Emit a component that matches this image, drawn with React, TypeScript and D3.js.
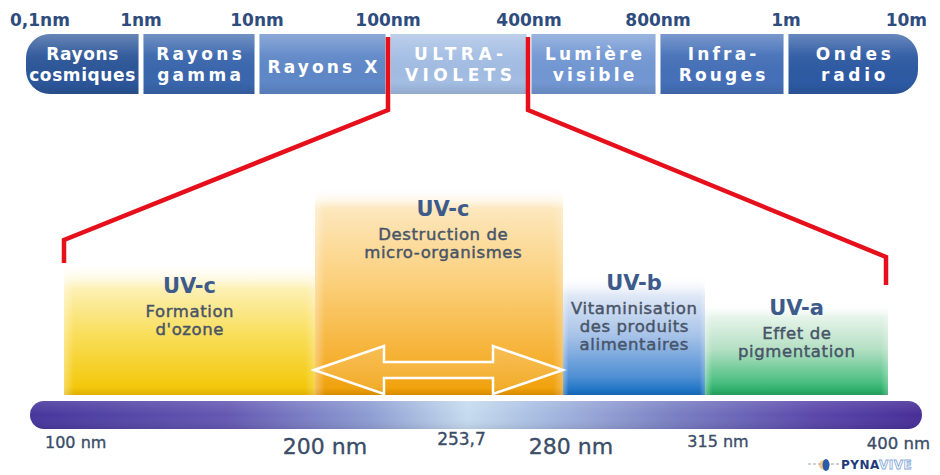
import React from "react";
import * as d3 from "d3";

// ---- data ----
const TOP_TICKS = ["0,1nm", "1nm", "10nm", "100nm", "400nm", "800nm", "1m", "10m"];
const BAND_LINE1 = ["Rayons", "Rayons", "Rayons X", "ULTRA-", "Lumière", "Infra-", "Ondes"];
const BAND_LINE2 = ["cosmiques", "gamma", "", "VIOLETS", "visible", "Rouges", "radio"];
const ZOOM_BAND = 3; // index of the UV band in the spectrum

const UV_NAMES = ["UV-c", "UV-c", "UV-b", "UV-a"];
const UV_DESC = [
  ["Formation", "d'ozone"],
  ["Destruction de", "micro-organismes"],
  ["Vitaminisation", "des produits", "alimentaires"],
  ["Effet de", "pigmentation"],
];
const UV_START = [100, 200, 280, 315];
const UV_END = [200, 280, 315, 400];
const UV_AXIS_VALUES = [100, 200, 253.7, 280, 315, 400];
const UV_AXIS_LABELS = ["100 nm", "200 nm", "253,7", "280 nm", "315 nm", "400 nm"];
const ARROW_RANGE = [200, 280];

// ---- styles ----
const BAND_COLORS = ["#2c5699", "#3a66ad", "#5f88c8", "#a3bde3", "#7297d3", "#4570b8", "#2d5aa3"];
const BAND_SPACING = [0.6, 3.3, 3.1, 4.5, 3.2, 3.2, 3.7];
const UV_TOPS = [262, 188, 275, 303];
const UV_GRADS = [
  [[0, "#ffffff", 0], [0.2, "#fdf0b4", 1], [0.55, "#f9de5a", 1], [0.94, "#f3c80c", 1], [1, "#e0b000", 1]],
  [[0, "#ffffff", 0], [0.1, "#fde7bd", 1], [0.45, "#fbd07c", 1], [0.85, "#f5ae2c", 1], [0.965, "#f0a20e", 1], [1, "#d88b00", 1]],
  [[0, "#ffffff", 0], [0.17, "#dfe8f6", 1], [0.5, "#a8c3e8", 1], [0.85, "#4e8fd3", 1], [0.95, "#2377c6", 1], [1, "#1566b0", 1]],
  [[0, "#ffffff", 0], [0.15, "#e6f4ea", 1], [0.5, "#b5e0c4", 1], [0.85, "#4ec083", 1], [0.94, "#2fb06c", 1], [1, "#229a5c", 1]],
];
const UV_TITLE_Y = [293, 216, 290, 315];
const AXIS_STYLE = [
  { size: 16, anchor: "start", dx: -19, y: 448 },
  { size: 22, anchor: "middle", dx: 10, y: 454 },
  { size: 17, anchor: "middle", dx: -20, y: 445 },
  { size: 22, anchor: "middle", dx: 8, y: 454 },
  { size: 16, anchor: "middle", dx: 13, y: 447 },
  { size: 16.5, anchor: "end", dx: 42, y: 449 },
];

const SANS = "'DejaVu Sans', 'Liberation Sans', sans-serif";

function segPath(x0: number, x1: number, y0: number, y1: number, rl: number, rr: number) {
  const p = d3.path();
  p.moveTo(x0 + rl, y0);
  p.lineTo(x1 - rr, y0);
  if (rr > 0) {
    p.arcTo(x1, y0, x1, y0 + rr, rr);
    p.lineTo(x1, y1 - rr);
    p.arcTo(x1, y1, x1 - rr, y1, rr);
  } else {
    p.lineTo(x1, y0);
    p.lineTo(x1, y1);
  }
  p.lineTo(x0 + rl, y1);
  if (rl > 0) {
    p.arcTo(x0, y1, x0, y1 - rl, rl);
    p.lineTo(x0, y0 + rl);
    p.arcTo(x0, y0, x0 + rl, y0, rl);
  } else {
    p.lineTo(x0, y1);
    p.lineTo(x0, y0);
  }
  p.closePath();
  return p.toString();
}

export default function App() {
  const W = 940;
  const H = 475;
  const topX = d3
    .scaleLinear()
    .domain(d3.range(TOP_TICKS.length))
    .range([26, 141, 257, 388, 529, 658, 786, 918]);
  const barY0 = 34;
  const barY1 = 94;
  const gap = 2.5;
  const uvX = d3.scaleLinear().domain([100, 200, 280, 315, 400]).range([64, 315, 563, 705, 888]);
  const boxBottom = 395;
  const specY0 = 401;
  const specY1 = 429;

  const nb = BAND_LINE1.length;
  const tickDx = (i: number) => (i === 0 ? -16 : i === TOP_TICKS.length - 1 ? 9 : 0);
  const tickAnchor = (i: number) => (i === 0 ? "start" : i === TOP_TICKS.length - 1 ? "end" : "middle");

  // red zoom lines
  const uvMin = d3.min(UV_START) as number;
  const uvMax = d3.max(UV_END) as number;
  const redL = d3.line()([
    [topX(ZOOM_BAND), 37],
    [topX(ZOOM_BAND), 110],
    [uvX(uvMin), 240],
    [uvX(uvMin), 263],
  ]);
  const redR = d3.line()([
    [topX(ZOOM_BAND + 1) - 1, 37],
    [topX(ZOOM_BAND + 1) - 1, 110],
    [uvX(uvMax) - 2, 257],
    [uvX(uvMax) - 2, 285],
  ]);

  // double arrow
  const ax0 = uvX(ARROW_RANGE[0]) - 1;
  const ax1 = uvX(ARROW_RANGE[1]);
  const ay = 370;
  const head = 70;
  const sh = 8;
  const hh = 24;
  const arrow = d3.line()([
    [ax0, ay],
    [ax0 + head, ay - hh],
    [ax0 + head, ay - sh],
    [ax1 - head, ay - sh],
    [ax1 - head, ay - hh],
    [ax1, ay],
    [ax1 - head, ay + hh],
    [ax1 - head, ay + sh],
    [ax0 + head, ay + sh],
    [ax0 + head, ay + hh],
  ]) + "Z";

  return (
    <svg
      width={W}
      height={H}
      viewBox={`0 0 ${W} ${H}`}
      style={{ position: "absolute", left: 0, top: 0, display: "block", background: "#fff" }}
    >
      <defs>
        <linearGradient id="barShine" x1="0" y1="0" x2="0" y2="1">
          <stop offset="0" stopColor="#ffffff" stopOpacity={0.28} />
          <stop offset="0.35" stopColor="#ffffff" stopOpacity={0.05} />
          <stop offset="0.8" stopColor="#000000" stopOpacity={0} />
          <stop offset="1" stopColor="#000000" stopOpacity={0.1} />
        </linearGradient>
        {UV_GRADS.map((g, i) => (
          <linearGradient key={i} id={`uvg${i}`} x1="0" y1="0" x2="0" y2="1">
            {g.map((s, j) => (
              <stop key={j} offset={s[0] as number} stopColor={s[1] as string} stopOpacity={s[2] as number} />
            ))}
          </linearGradient>
        ))}
        <linearGradient id="edgeFade" x1="0" y1="0" x2="1" y2="0">
          <stop offset="0" stopColor="#ffffff" stopOpacity={0.35} />
          <stop offset="0.04" stopColor="#ffffff" stopOpacity={0} />
          <stop offset="0.96" stopColor="#ffffff" stopOpacity={0} />
          <stop offset="1" stopColor="#ffffff" stopOpacity={0.25} />
        </linearGradient>
        <linearGradient id="specGrad" x1="0" y1="0" x2="1" y2="0">
          <stop offset="0" stopColor="#47369c" />
          <stop offset="0.22" stopColor="#6458b2" />
          <stop offset="0.38" stopColor="#8d9dd2" />
          <stop offset="0.49" stopColor="#c6dbef" />
          <stop offset="0.58" stopColor="#a5b9e0" />
          <stop offset="0.72" stopColor="#7a80c3" />
          <stop offset="0.88" stopColor="#5a47aa" />
          <stop offset="1" stopColor="#472e97" />
        </linearGradient>
        <linearGradient id="specShine" x1="0" y1="0" x2="0" y2="1">
          <stop offset="0" stopColor="#ffffff" stopOpacity={0.12} />
          <stop offset="0.5" stopColor="#ffffff" stopOpacity={0} />
          <stop offset="1" stopColor="#000000" stopOpacity={0.08} />
        </linearGradient>
      </defs>

      {/* top spectrum tick labels */}
      {TOP_TICKS.map((t, i) => (
        <text
          key={t}
          x={topX(i) + tickDx(i)}
          y={26}
          textAnchor={tickAnchor(i)}
          fontFamily={SANS}
          fontWeight="bold"
          fontSize={17}
          fill="#2e4c7d"
        >
          {t}
        </text>
      ))}

      {/* top spectrum bands */}
      {d3.range(nb).map((i) => {
        const x0 = topX(i) + (i === 0 ? 0 : gap);
        const x1 = topX(i + 1) - (i === nb - 1 ? 0 : gap);
        const d = segPath(x0, x1, barY0, barY1, i === 0 ? 24 : 0, i === nb - 1 ? 24 : 0);
        const cx = (x0 + x1) / 2 + BAND_SPACING[i] / 2;
        const two = BAND_LINE2[i] !== "";
        return (
          <g key={i}>
            <path d={d} fill={BAND_COLORS[i]} />
            <path d={d} fill="url(#barShine)" />
            <text
              x={cx}
              y={two ? 60 : 73}
              textAnchor="middle"
              fontFamily={SANS}
              fontWeight="bold"
              fontSize={17}
              letterSpacing={BAND_SPACING[i]}
              fill="#ffffff"
            >
              {BAND_LINE1[i]}
            </text>
            {two && (
              <text
                x={cx}
                y={81}
                textAnchor="middle"
                fontFamily={SANS}
                fontWeight="bold"
                fontSize={17}
                letterSpacing={BAND_SPACING[i]}
                fill="#ffffff"
              >
                {BAND_LINE2[i]}
              </text>
            )}
          </g>
        );
      })}

      {/* UV boxes */}
      {UV_NAMES.map((n, i) => {
        const x0 = uvX(UV_START[i]);
        const x1 = uvX(UV_END[i]);
        return (
          <g key={i}>
            <rect x={x0} y={UV_TOPS[i]} width={x1 - x0} height={boxBottom - UV_TOPS[i]} fill={`url(#uvg${i})`} />
            <rect x={x0} y={UV_TOPS[i]} width={x1 - x0} height={boxBottom - UV_TOPS[i]} fill="url(#edgeFade)" />
          </g>
        );
      })}

      {/* double arrow */}
      <path d={arrow} fill="#ffffff" fillOpacity={0.12} stroke="#ffffff" strokeWidth={2.5} strokeLinejoin="miter" />

      {/* UV texts */}
      {UV_NAMES.map((n, i) => {
        const cx = (uvX(UV_START[i]) + uvX(UV_END[i])) / 2 + (i === 1 ? 4 : 0);
        const ty = UV_TITLE_Y[i];
        return (
          <g key={i}>
            <text x={cx} y={ty} textAnchor="middle" fontFamily={SANS} fontWeight="bold" fontSize={21} fill="#3c5b8a">
              {n}
            </text>
            {UV_DESC[i].map((l, j) => (
              <text
                key={j}
                x={cx + 0.3}
                y={ty + 24 + j * 18}
                textAnchor="middle"
                fontFamily={SANS}
                fontSize={16.5}
                letterSpacing={0.6}
                fill="#485468"
                stroke="#485468"
                strokeWidth={0.45}
              >
                {l}
              </text>
            ))}
          </g>
        );
      })}

      {/* red zoom lines */}
      <path d={redL as string} fill="none" stroke="#e5101b" strokeWidth={4.5} />
      <path d={redR as string} fill="none" stroke="#e5101b" strokeWidth={4.5} />

      {/* UV spectrum bar */}
      <rect x={30} y={specY0} width={892} height={specY1 - specY0} rx={14} fill="url(#specGrad)" />
      <rect x={30} y={specY0} width={892} height={specY1 - specY0} rx={14} fill="url(#specShine)" />

      {/* UV axis labels */}
      {UV_AXIS_VALUES.map((v, i) => (
        <text
          key={i}
          x={uvX(v) + AXIS_STYLE[i].dx}
          y={AXIS_STYLE[i].y}
          textAnchor={AXIS_STYLE[i].anchor}
          fontFamily={SANS}
          fontSize={AXIS_STYLE[i].size}
          fill="#3b4d68"
          stroke="#3b4d68"
          strokeWidth={0.35}
        >
          {UV_AXIS_LABELS[i]}
        </text>
      ))}

      {/* logo */}
      <g>
        <line x1={808} y1={464} x2={830} y2={464} stroke="#9aa6b8" strokeWidth={1.2} strokeDasharray="3 2" />
        <circle cx={824} cy={465} r={5} fill="#f0a040" opacity={0.6} />
        <ellipse cx={826} cy={465} rx={3.5} ry={6} fill="#2a5aa8" />
        <line x1={831} y1={464} x2={840} y2={464} stroke="#9aa6b8" strokeWidth={1.2} strokeDasharray="3 2" />
        <text x={841} y={469} fontFamily={SANS} fontWeight="bold" fontSize={12} letterSpacing={0.5}>
          <tspan fill="#1f3a78">PYNA</tspan>
          <tspan fill="#ffffff" stroke="#86a8d8" strokeWidth={0.8}>VIVE</tspan>
        </text>
      </g>
    </svg>
  );
}
